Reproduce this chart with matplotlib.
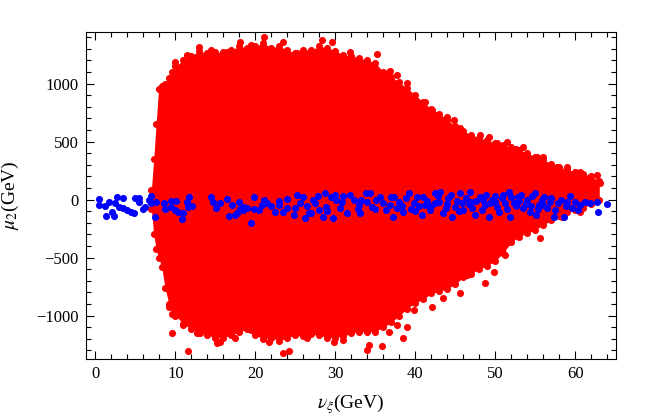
import matplotlib.pyplot as plt
from matplotlib.ticker import MultipleLocator

plt.rcParams['font.family'] = ['Liberation Serif', 'DejaVu Serif']
plt.rcParams['mathtext.fontset'] = 'stix'

# red cloud: outline of the dense region (x, upper, lower)
red_x = [7.0, 7.3, 7.6, 7.9, 8.3, 8.7, 9.2, 9.6, 10, 11, 12, 13, 14, 15, 16, 17, 18, 19, 20,
         21, 22, 23, 24, 25, 26, 27, 28, 29, 30, 31, 32, 33, 34, 35, 36, 37, 38, 39, 40,
         41, 42, 43, 44, 45, 46, 47, 48, 49, 50, 51, 52, 53, 54, 55, 56, 57, 58, 59, 60,
         61, 62, 63]
red_top = [80, 350, 650, 950, 980, 1000, 1050, 1100, 1150, 1200, 1240, 1280, 1260, 1270,
           1270, 1290, 1320, 1310, 1320, 1350, 1310, 1320, 1290, 1260, 1290, 1290, 1320,
           1310, 1280, 1250, 1240, 1220, 1200, 1180, 1100, 1060, 1010, 960, 900, 840, 780,
           740, 690, 630, 590, 560, 530, 510, 490, 470, 450, 430, 400, 370, 340, 310, 280,
           260, 240, 220, 200, 160]
red_bot = [-80, -300, -430, -500, -580, -760, -900, -990, -1000, -1070, -1120, -1140, -1170,
           -1190, -1190, -1170, -1140, -1120, -1170, -1200, -1190, -1220, -1190, -1170,
           -1180, -1160, -1170, -1190, -1190, -1180, -1150, -1140, -1140, -1140, -1100,
           -1060, -1000, -940, -890, -860, -810, -790, -770, -730, -670, -640, -600, -570,
           -530, -460, -370, -320, -290, -260, -220, -180, -140, -110, -90, -70, -40, 0]

# stray red points outside the outline
red_px = [12.9, 18.1, 21.1, 23.5, 28.3, 29.6, 35.2, 36.7, 39.0, 38.75, 41.25, 42.1, 44.0,
          44.8, 45.6, 48.1, 49.2, 50.2, 51.5, 52.6, 53.5, 55.2, 56.0, 57.7, 59.0, 60.6, 61.9,
          62.7, 63.1, 10.0, 11.5, 14.4, 16.5, 19.4, 25.2, 31.9, 36.9, 37.7,
          9.6, 11.6, 12.7, 13.1, 15.2, 15.6, 17.5, 19.4, 21.7, 23.5, 24.2, 26.5, 29.8, 31.0,
          34.0, 34.2, 35.8, 36.7, 37.7, 38.5, 39.0, 39.8, 42.1, 42.3, 43.5, 45.6, 46.5, 48.75,
          49.8, 51.25, 52.9, 55.6, 58.3, 60.6, 11.0, 9.2]
red_py = [1317, 1360, 1404, 1360, 1375, 1360, 1254, 1102, 1001, 929, 843, 771, 714,
          685, 616, 556, 541, 484, 498, 440, 455, 369, 369, 283, 283, 240, 197,
          211, 142, 1188, 1246, 1289, 1274, 1332, 1262, 1274, 1110, 1073,
          -1152, -1306, -1152, -1152, -1238, -1226, -1196, -1125, -1226, -1326, -1306, -1194,
          -1226, -1211, -1297, -1250, -1263, -1140, -1082, -1197, -1096, -953, -924, -752,
          -852, -809, -651, -723, -622, -478, -306, -335, -154, -105, -1082, -924]

blue_x = [0.4, 0.4, 1.2, 1.3, 1.7, 2.1, 2.3, 2.5, 2.7, 3.0, 3.5, 3.5, 4.0, 4.4, 4.8, 4.9,
          5.4, 5.4, 6.0, 6.25, 6.7, 6.9, 7.0, 7.4, 7.6,
          8.6, 8.75, 9.4, 9.5, 10.0, 10.1, 10.3, 10.8, 10.9, 11.4, 11.6, 11.7, 12.1, 14.4,
          14.7, 15.1, 15.6, 16.5, 16.7, 17.1, 17.5, 17.7, 17.9, 18.1, 18.5, 18.6, 19.0, 19.4,
          19.8, 19.8, 20.4, 21.1, 21.4, 22.5, 22.9, 23.0, 24.0, 24.0, 24.8, 24.9, 25.2, 25.6,
          26.0, 26.25, 26.7, 27.0, 27.2, 27.5, 28.0, 28.5, 28.75, 28.9, 29.5, 29.7, 30.1,
          30.6, 30.9, 31.9, 32.3, 33.1, 33.2, 33.9, 34.4, 34.6, 35.1, 35.6, 36.0, 36.4, 37.0,
          37.2, 37.3, 37.7, 38.5, 39.2, 39.8,
          40.2, 40.8, 41.2, 41.9, 42.5, 42.5, 43.1, 43.5, 44.1, 44.6, 45.0, 45.6, 45.8, 46.9,
          47.1, 47.5, 48.1, 48.75, 49.2, 49.6, 50.2, 50.8, 51.7, 51.9, 52.3, 52.9, 53.5, 54.0,
          55.0, 55.1, 55.5, 55.9, 56.5, 57.3, 57.8, 58.6, 59.0, 59.6, 60.0, 60.6, 61.9, 62.7,
          62.8, 64.0,
          38.0, 38.9, 39.5, 40.5, 41.0, 41.5, 42.0, 43.0, 43.8, 44.5, 45.2, 46.0, 46.3, 46.7,
          47.6, 48.3, 48.9, 49.4, 50.0, 50.5, 51.2, 51.5, 52.0, 52.6, 53.2, 53.8, 54.3, 54.6,
          55.3, 56.1, 56.8, 57.5, 58.2, 58.9, 59.3, 60.3, 61.2, 38.3, 40.0, 44.0, 47.0, 50.0,
          53.0, 56.0, 42.8, 45.5, 48.5, 51.0, 54.5, 57.0, 35.0, 33.0, 31.0, 32.8, 34.0, 36.8,
          30.0, 27.8, 29.0, 31.5, 23.5, 26.5, 20.8, 22.0]
blue_y = [2, -47, -56, -142, -19, -105, -142, -33, 19, -62, 10, -76, -90, -105, -119, 10,
          10, -19, -85, -62, -4, 30, -26, -148, -19,
          -33, -85, -12, -62, -90, -12, -105, -171, -119, -19, -62, 19, -56, 19,
          -19, -76, -33, 2, -142, -47, -133, -114, -19, -85, -90, -62, -76, -205,
          19, -85, -90, -4, -26, -105, -10, -47, 2, -76, -133, -70, 39, -26,
          24, -162, -119, -114, -4, -33, -90, -148, 53, -62, 24, -162, -4,
          -76, -19, 39, -4, -119, -4, 53, 53, -62, -4, 24, -33, -90, 24,
          -148, 24, -76, -105, 53, -33,
          24, -133, -47, -90, 53, -33, 67, -119, 10, -148, -62, 53, -33, 67,
          -76, -133, 24, -47, -148, -4, -62, 10, 67, -148, -33, 24, -76, -4,
          53, -133, -47, -4, -76, -148, -33, -148, -19, -76, -19, -47, -33, -19,
          -105, -39,
          -20, 10, -80, -60, 20, -10, -60, -20, -70, 40, -10, -90, 10, -40,
          -10, -90, 40, -30, 30, -110, -30, -80, 20, -60, 40, -40, -110, 30,
          -80, 20, -20, -90, 0, -60, 30, -90, -20, -60, -100, -40, -20, -20,
          -10, -50, 30, -100, 0, 40, -60, 10, -80, -50, 30, -80, -20, -50,
          40, 30, -100, -120, -110, -60, -50, -60]

fig = plt.figure(figsize=(6.48, 4.2), dpi=100)
ax = fig.add_axes([0.1323, 0.1452, 0.8184, 0.7793])

dot = 26
ax.fill_between(red_x, red_bot, red_top, color='red', lw=0)
ax.scatter(red_x, red_top, s=dot, color='red', lw=0)
ax.scatter(red_x, red_bot, s=dot, color='red', lw=0)
ax.scatter(red_px, red_py, s=dot, color='red', lw=0)
ax.scatter(blue_x, blue_y, s=dot, color='blue', lw=0, zorder=3)

ax.set_xlim(-1.2, 65.1)
ax.set_ylim(-1375, 1447)
ax.xaxis.set_major_locator(MultipleLocator(10))
ax.xaxis.set_minor_locator(MultipleLocator(2))
ax.yaxis.set_major_locator(MultipleLocator(500))
ax.yaxis.set_minor_locator(MultipleLocator(100))
ax.tick_params(which='both', direction='in', top=True, right=True, labelsize=12, width=0.8)
ax.tick_params(which='major', length=6, pad=5)
ax.tick_params(which='minor', length=3.5)
for s in ax.spines.values():
    s.set_linewidth(0.8)

ax.set_xlabel(r'$\nu_\xi$(GeV)', fontsize=14, labelpad=7)
ax.set_ylabel(r'$\mu_2$(GeV)', fontsize=14, labelpad=11)

fig.savefig('out.png', dpi=100)
